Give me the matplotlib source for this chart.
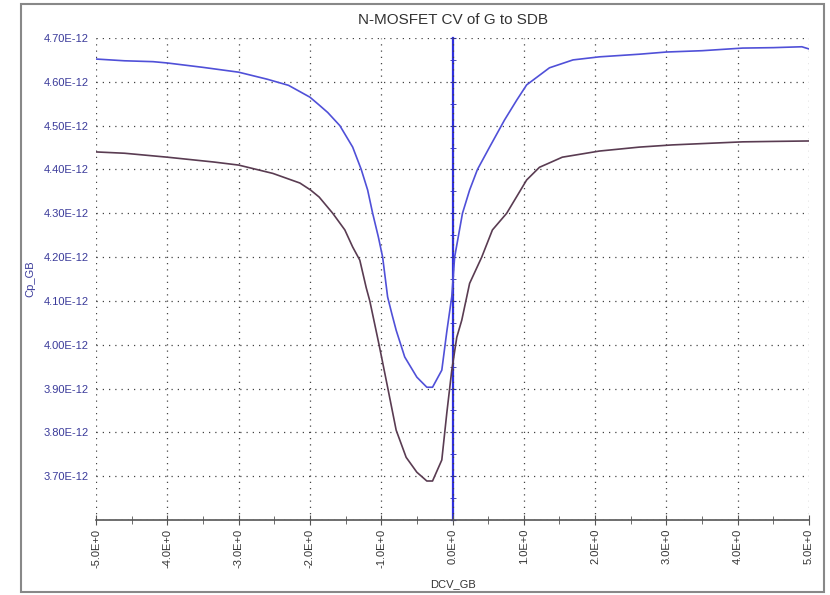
import matplotlib
matplotlib.use('Agg')
import matplotlib.pyplot as plt
from matplotlib.patches import Rectangle
from matplotlib.ticker import MultipleLocator, FuncFormatter, NullFormatter

plt.rcParams['font.family'] = ['Liberation Sans', 'DejaVu Sans']

# DC bias (V) and capacitance (in units of 1E-12 F)
v_upper = [-5.0, -4.6, -4.2, -4.0, -3.5, -3.0, -2.6, -2.3, -2.0, -1.87, -1.75, -1.58,
           -1.40, -1.28, -1.19, -1.12, -1.04, -0.98, -0.91, -0.85, -0.79, -0.67,
           -0.50, -0.36, -0.28, -0.15, -0.08, -0.01, 0.03, 0.14, 0.24, 0.35, 0.52,
           0.73, 0.90, 1.04, 1.36, 1.69, 2.06, 2.62, 3.0, 3.5, 4.07, 4.5, 4.9, 5.0]
cp_upper = [4.652, 4.648, 4.646, 4.643, 4.633, 4.622, 4.606, 4.592, 4.565, 4.547,
            4.530, 4.500, 4.451, 4.400, 4.353, 4.300, 4.246, 4.200, 4.109, 4.070,
            4.033, 3.972, 3.926, 3.903, 3.903, 3.942, 4.030, 4.110, 4.200, 4.300,
            4.353, 4.400, 4.451, 4.513, 4.558, 4.593, 4.632, 4.650, 4.657, 4.663,
            4.668, 4.671, 4.677, 4.678, 4.680, 4.675]

v_lower = [-5.0, -4.6, -4.0, -3.35, -3.0, -2.52, -2.14, -1.99, -1.87, -1.68, -1.51,
           -1.40, -1.30, -1.21, -1.16, -1.03, -0.91, -0.79, -0.65, -0.50, -0.36,
           -0.28, -0.15, -0.08, -0.01, 0.06, 0.13, 0.24, 0.41, 0.56, 0.76, 1.04,
           1.22, 1.36, 1.54, 2.06, 2.62, 3.08, 3.5, 4.07, 4.5, 5.0]
cp_lower = [4.440, 4.437, 4.428, 4.417, 4.410, 4.391, 4.369, 4.353, 4.337, 4.300,
            4.262, 4.223, 4.193, 4.130, 4.100, 4.000, 3.903, 3.805, 3.743, 3.709,
            3.689, 3.689, 3.737, 3.844, 3.942, 4.017, 4.056, 4.140, 4.200, 4.262,
            4.300, 4.376, 4.405, 4.415, 4.428, 4.442, 4.451, 4.456, 4.459, 4.463,
            4.464, 4.465]

fig = plt.figure(figsize=(8.3, 5.95), dpi=100)
ax = fig.add_axes([96/830, 1-520/595, (809-96)/830, (520-38)/595])

ax.plot(v_upper, cp_upper, color='#5050d8', lw=1.2)
ax.plot(v_lower, cp_lower, color='#5a3c52', lw=1.2)

ax.set_xlim(-5, 5)
ax.set_ylim(3.60, 4.70)

ax.xaxis.set_major_locator(MultipleLocator(1))
ax.xaxis.set_minor_locator(MultipleLocator(0.5))
ax.yaxis.set_major_locator(MultipleLocator(0.1))
ax.xaxis.set_major_formatter(FuncFormatter(lambda v, p: f"{v:.1f}E+0"))
ax.yaxis.set_major_formatter(FuncFormatter(lambda v, p: f"{v:.2f}E-12" if v > 3.65 else ""))

for s in ['top', 'right', 'left']:
    ax.spines[s].set_visible(False)
ax.spines['bottom'].set_color('#555555')
ax.spines['bottom'].set_linewidth(1.2)

ax.grid(True, which='major', color='#444444', linestyle=(0, (1, 4)), lw=0.9)
ax.tick_params(axis='x', which='both', direction='inout', length=7, color='#555555',
               labelrotation=90, labelsize=8, labelcolor='#333333', pad=3)
ax.tick_params(axis='x', which='minor', length=6)
ax.tick_params(axis='y', length=0, labelsize=8, labelcolor='#3a3a9a', pad=5)

# blue vertical axis at DCV = 0
sec = ax.secondary_yaxis(0.5)
for s in sec.spines.values():
    s.set_color('#3030e0')
    s.set_linewidth(1.6)
sec.yaxis.set_major_locator(MultipleLocator(0.1))
sec.yaxis.set_minor_locator(MultipleLocator(0.05))
sec.yaxis.set_major_formatter(NullFormatter())
sec.tick_params(which='both', direction='inout', length=5, color='#3030a0',
                labelleft=False, labelright=False)

ax.set_title('N-MOSFET CV of G to SDB', fontsize=11, color='#333333', y=1.0, pad=10)
ax.set_xlabel('DCV_GB', fontsize=8, color='#333333', labelpad=8)
ax.set_ylabel('Cp_GB', fontsize=8, color='#3a3a9a', labelpad=6)

fig.patches.append(Rectangle((21/830, 1-592/595), (824-21)/830, (592-4)/595,
                             transform=fig.transFigure, fill=False,
                             edgecolor='#888888', lw=1.5))

fig.savefig('out.png', dpi=100)
